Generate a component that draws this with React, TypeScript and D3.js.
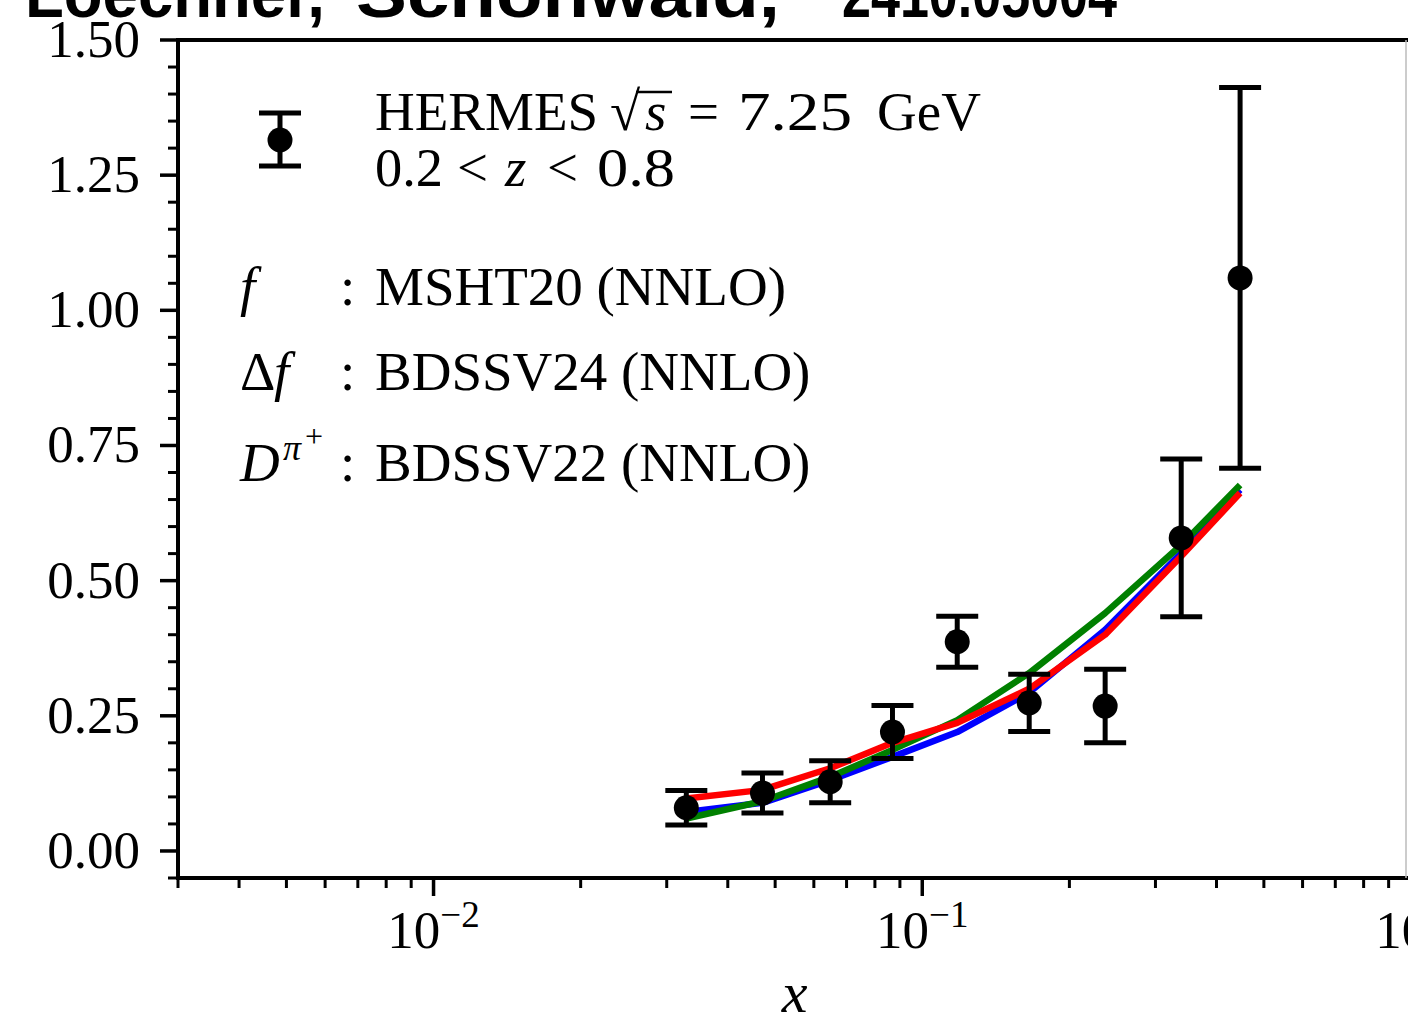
import { useEffect, useRef } from 'react';
import * as d3 from 'd3';

// HERMES data points
const xValues = [0.0329, 0.0471, 0.0648, 0.0869, 0.1179, 0.1655, 0.2367, 0.3387, 0.447];
const yValues = [0.08, 0.107, 0.128, 0.22, 0.387, 0.274, 0.268, 0.579, 1.06];
const yErrors = [0.032, 0.037, 0.039, 0.049, 0.047, 0.053, 0.068, 0.146, 0.352];

// theory curves, evaluated at the data x values
const curveBlue = [0.072, 0.089, 0.131, 0.174, 0.22, 0.293, 0.409, 0.551, 0.668];
const curveGreen = [0.06, 0.092, 0.137, 0.187, 0.242, 0.329, 0.44, 0.566, 0.677];
const curveRed = [0.097, 0.113, 0.153, 0.2, 0.237, 0.3, 0.4, 0.545, 0.662];

const yTicks = [0, 0.25, 0.5, 0.75, 1.0, 1.25, 1.5];
const xTicks = [0.01, 0.1, 1];
const xTickExp = ['−2', '−1', '0'];

const titleWords = ['Loechner,', 'Schönwald,', '2410.05004'];

const serif = '"Liberation Serif", "DejaVu Serif", serif';

export default function App() {
  const ref = useRef<SVGSVGElement>(null);

  useEffect(() => {
    const width = 1408;
    const height = 1024;
    const svg = d3.select(ref.current);
    svg.selectAll('*').remove();
    svg.attr('width', width).attr('height', height);

    const x = d3.scaleLog().domain([0.003, 1]).range([178, 1411]);
    const y = d3.scaleLinear().domain([-0.05, 1.5]).range([878, 40]);

    // titulo (cortado arriba)
    const title = svg.append('text')
      .attr('y', 17)
      .attr('font-family', '"Liberation Sans", Arial, sans-serif')
      .attr('font-weight', 700)
      .attr('font-size', 66)
      .attr('fill', '#000');
    const titleX = [25, 356, 842];
    const titleLen = [300, 424, 275];
    titleWords.forEach((w, i) => {
      title.append('tspan').attr('x', titleX[i])
        .attr('textLength', titleLen[i]).attr('lengthAdjust', 'spacingAndGlyphs')
        .text(w);
    });

    // ticks menores eje y
    const yMinor = d3.range(-0.05, 1.5001, 0.05).filter(v => !yTicks.some(t => Math.abs(t - v) < 1e-6));
    svg.append('g').selectAll('line').data(yMinor).join('line')
      .attr('x1', 168).attr('x2', 178)
      .attr('y1', d => y(d)).attr('y2', d => y(d))
      .attr('stroke', '#000').attr('stroke-width', 3);
    svg.append('g').selectAll('line').data(yTicks).join('line')
      .attr('x1', 160).attr('x2', 178)
      .attr('y1', d => y(d)).attr('y2', d => y(d))
      .attr('stroke', '#000').attr('stroke-width', 3.5);
    svg.append('g').selectAll('text').data(yTicks).join('text')
      .attr('x', 140)
      .attr('y', d => y(d) + 17)
      .attr('text-anchor', 'end')
      .attr('font-family', serif)
      .attr('font-size', 53)
      .attr('fill', '#000')
      .text(d => d.toFixed(2));

    // ticks eje x (log)
    const xMinor: number[] = [];
    [0.001, 0.01, 0.1].forEach(dec => {
      for (let k = 2; k <= 9; k++) {
        const v = dec * k;
        if (v >= 0.003 && v < 1) xMinor.push(v);
      }
    });
    svg.append('g').selectAll('line').data(xMinor).join('line')
      .attr('x1', d => x(d)).attr('x2', d => x(d))
      .attr('y1', 878).attr('y2', 888)
      .attr('stroke', '#000').attr('stroke-width', 3);
    svg.append('g').selectAll('line').data(xTicks).join('line')
      .attr('x1', d => x(d)).attr('x2', d => x(d))
      .attr('y1', 878).attr('y2', 896)
      .attr('stroke', '#000').attr('stroke-width', 3.5);
    const xl = svg.append('g').selectAll('text').data(xTicks).join('text')
      .attr('x', d => x(d))
      .attr('y', 948)
      .attr('text-anchor', 'middle')
      .attr('font-family', serif)
      .attr('font-size', 53)
      .attr('fill', '#000');
    xl.append('tspan').text('10');
    xl.append('tspan')
      .attr('dy', -21)
      .attr('font-size', 37)
      .text((d, i) => xTickExp[i]);

    // etiqueta eje x
    svg.append('text')
      .attr('x', (x.range()[0] + x.range()[1]) / 2)
      .attr('y', 1012)
      .attr('text-anchor', 'middle')
      .attr('font-family', serif)
      .attr('font-style', 'italic')
      .attr('font-size', 58)
      .attr('fill', '#000')
      .text('x');

    // curvas
    const line = d3.line<number>()
      .x((d, i) => x(xValues[i]))
      .y(d => y(d));
    [[curveBlue, '#0000ff'], [curveGreen, '#008000'], [curveRed, '#ff0000']].forEach(([c, col]) => {
      svg.append('path')
        .attr('d', line(c as number[]))
        .attr('fill', 'none')
        .attr('stroke', col as string)
        .attr('stroke-width', 6.5)
        .attr('stroke-linejoin', 'round');
    });

    // barras de error
    const drawErr = (g: any, cx: number, cy: number, top: number, bot: number) => {
      g.append('line')
        .attr('x1', cx).attr('x2', cx).attr('y1', top).attr('y2', bot)
        .attr('stroke', '#000').attr('stroke-width', 5);
      [top, bot].forEach(yy => {
        g.append('line')
          .attr('x1', cx - 21).attr('x2', cx + 21).attr('y1', yy).attr('y2', yy)
          .attr('stroke', '#000').attr('stroke-width', 5);
      });
      g.append('circle').attr('cx', cx).attr('cy', cy).attr('r', 12.5).attr('fill', '#000');
    };
    const eg = svg.append('g');
    xValues.forEach((xv, i) => {
      drawErr(eg, x(xv), y(yValues[i]), y(yValues[i] + yErrors[i]), y(yValues[i] - yErrors[i]));
    });

    // ejes
    svg.append('line').attr('x1', 178).attr('x2', 178).attr('y1', 38).attr('y2', 880)
      .attr('stroke', '#000').attr('stroke-width', 4);
    svg.append('line').attr('x1', 176).attr('x2', 1411).attr('y1', 878).attr('y2', 878)
      .attr('stroke', '#000').attr('stroke-width', 4);
    svg.append('line').attr('x1', 176).attr('x2', 1411).attr('y1', 40).attr('y2', 40)
      .attr('stroke', '#000').attr('stroke-width', 4);
    svg.append('line').attr('x1', 1406).attr('x2', 1406).attr('y1', 40).attr('y2', 878)
      .attr('stroke', '#bbb').attr('stroke-width', 1.5);

    // leyenda
    drawErr(svg.append('g'), 280, 140, 113, 166);
    const txt = (xx: number, yy: number, size = 55) => svg.append('text')
      .attr('x', xx).attr('y', yy)
      .attr('font-family', serif)
      .attr('font-size', size)
      .attr('fill', '#000');

    txt(375, 130).text('HERMES');
    txt(610, 130).text('√');
    txt(645, 130).attr('font-style', 'italic').text('s');
    // vinculo de la raiz
    svg.append('line')
      .attr('x1', 636).attr('x2', 672)
      .attr('y1', 92).attr('y2', 92)
      .attr('stroke', '#000').attr('stroke-width', 2.5);
    txt(688, 130).text('=');
    txt(738, 130).attr('textLength', 114).attr('lengthAdjust', 'spacingAndGlyphs').text('7.25');
    txt(877, 130).text('GeV');

    txt(375, 186).attr('textLength', 68).attr('lengthAdjust', 'spacingAndGlyphs').text('0.2');
    txt(457, 186).text('<');
    txt(505, 186).attr('font-style', 'italic').text('z');
    txt(547, 186).text('<');
    txt(597, 186).attr('textLength', 78).attr('lengthAdjust', 'spacingAndGlyphs').text('0.8');

    txt(240, 305).attr('font-style', 'italic').text('f');
    txt(340, 305).text(':');
    txt(375, 305).text('MSHT20 (NNLO)');

    txt(240, 390).text('Δ');
    txt(274, 390).attr('font-style', 'italic').text('f');
    txt(340, 390).text(':');
    txt(375, 390).text('BDSSV24 (NNLO)');

    txt(240, 481).attr('font-style', 'italic').text('D');
    txt(283, 460, 36).attr('font-style', 'italic').text('π');
    txt(305, 447, 32).text('+');
    txt(340, 481).text(':');
    txt(375, 481).text('BDSSV22 (NNLO)');
  }, []);

  return <svg ref={ref} style={{ position: 'absolute', left: 0, top: 0, background: '#fff' }} />;
}
